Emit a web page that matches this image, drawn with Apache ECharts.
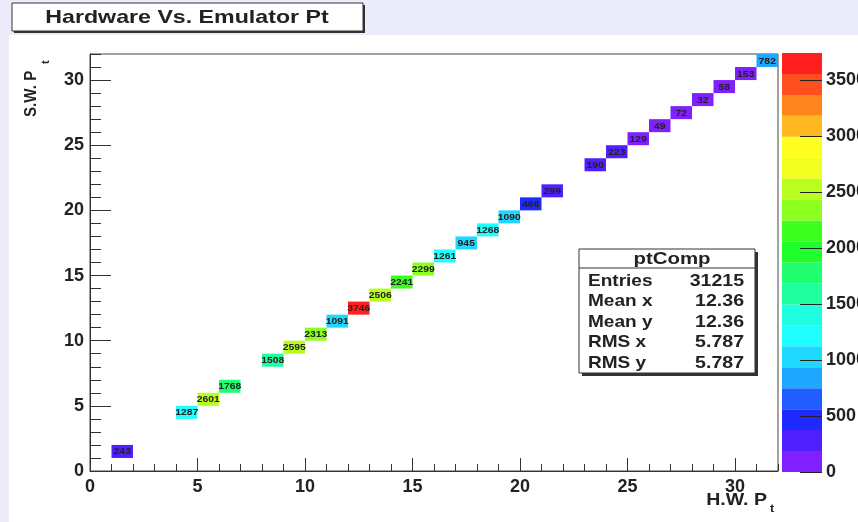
<!DOCTYPE html>
<html>
<head>
    <meta charset="utf-8">
    <title>Hardware Vs. Emulator Pt</title>
    <script src="https://cdn.jsdelivr.net/npm/echarts@6/dist/echarts.min.js"></script>
    <style>
        html, body { margin: 0; padding: 0; background: #ebebfa; }
        #mychart { width: 858px; height: 522px; }
    </style>
</head>
<body>
<div id="mychart"></div>
<script>
    // TH2 "ptComp": filled bins (lower edge of each bin) and their counts
    var hwBins = [1, 4, 5, 6, 8, 9, 10, 11, 12, 13, 14, 15, 16, 17, 18, 19, 20, 21, 23, 24, 25, 26, 27, 28, 29, 30, 31];
    var swBins = [1, 4, 5, 6, 8, 9, 10, 11, 12, 13, 14, 15, 16, 17, 18, 19, 20, 21, 23, 24, 25, 26, 27, 28, 29, 30, 31];
    var counts = [243, 1287, 2601, 1768, 1508, 2595, 2313, 1091, 3746, 2506, 2241, 2299, 1261, 945, 1268, 1090, 466, 299, 190, 223, 129, 49, 72, 32, 58, 153, 782];
    var axisTicks = [0, 5, 10, 15, 20, 25, 30];
    var zTicks = [0, 500, 1000, 1500, 2000, 2500, 3000, 3500];
    var statNames = ['Entries', 'Mean x', 'Mean y', 'RMS x', 'RMS y'];
    var statValues = ['31215', '12.36', '12.36', '5.787', '5.787'];

    var zMax = 3746;
    var levelColors = ['#801fff', '#501fff', '#1f2aff', '#1f5fff', '#1fa6ff', '#1fd8ff', '#1fffff',
        '#1fffe0', '#1fffa0', '#1fff70', '#1fff2c', '#3cff1f', '#8cff1f', '#b8ff1f', '#f0ff1f',
        '#ffff1f', '#ffb81f', '#ff861f', '#ff4f1f', '#ff1f1f'];
    var step = zMax / levelColors.length;

    var cells = [];
    for (let i = 0; i < counts.length; i++) {
        cells.push([hwBins[i], swBins[i], counts[i]]);
    }
    var levels = [];
    for (let k = 0; k < levelColors.length; k++) {
        levels.push([k]);
    }

    var fam = '"Liberation Sans", Arial, sans-serif';
    var bold = 'bold 17px ' + fam;
    var labelStyle = {color: '#222', fontWeight: 'bold', fontSize: 18, fontFamily: 'Liberation Sans'};
    var myChart = echarts.init(document.getElementById('mychart'), null, {renderer: 'canvas'});

    // text helper, the picture is a bit wider than tall so fonts get stretched
    function txt(s, x, y, font, align, sx, rot) {
        return {type: 'text', x: x, y: y, scaleX: sx || 1, rotation: rot || 0,
            style: {text: s, x: 0, y: 0, align: align, verticalAlign: 'middle', font: font, fill: '#222'}};
    }

    var option = {
        animation: false,
        grid: [
            {left: 90, top: 54, width: 688, height: 417, outerBoundsMode: 'none', containLabel: false,
                show: true, borderColor: '#444', borderWidth: 1, backgroundColor: '#fff'},
            {left: 782, top: 53, width: 40, height: 419, outerBoundsMode: 'none', containLabel: false},
            {left: 90, top: 54, width: 688, height: 417, outerBoundsMode: 'none', containLabel: false}
        ],
        xAxis: [
            {
                gridIndex: 0, type: 'value', min: 0, max: 32,
                axisLine: {onZero: false, lineStyle: {color: '#333'}},
                axisTick: {inside: true, length: 13, customValues: axisTicks, lineStyle: {color: '#333'}},
                axisLabel: Object.assign({customValues: axisTicks, margin: 7}, labelStyle),
                splitLine: {show: false}
            },
            {gridIndex: 1, type: 'value', min: 0, max: 1, show: false},
            {
                gridIndex: 2, type: 'value', min: 0, max: 32, interval: 1,
                axisLine: {show: false, onZero: false},
                axisTick: {inside: true, length: 7, lineStyle: {color: '#333'}},
                axisLabel: {show: false}, splitLine: {show: false}
            }
        ],
        yAxis: [
            {
                gridIndex: 0, type: 'value', min: 0, max: 32,
                axisLine: {onZero: false, lineStyle: {color: '#333'}},
                axisTick: {inside: true, length: 21, customValues: axisTicks, lineStyle: {color: '#333'}},
                axisLabel: Object.assign({customValues: axisTicks, margin: 6}, labelStyle),
                splitLine: {show: false}
            },
            {
                gridIndex: 1, type: 'value', min: 0, max: zMax, position: 'right', z: 5,
                axisLine: {show: false, onZero: false},
                axisTick: {inside: true, length: 22, customValues: zTicks, lineStyle: {color: '#222'}},
                axisLabel: Object.assign({customValues: zTicks, margin: 4, formatter: function (v) { return String(v); }}, labelStyle),
                splitLine: {show: false}
            },
            {
                gridIndex: 2, type: 'value', min: 0, max: 32, interval: 1,
                axisLine: {show: false, onZero: false},
                axisTick: {inside: true, length: 11, lineStyle: {color: '#333'}},
                axisLabel: {show: false}, splitLine: {show: false}
            }
        ],
        series: [
            {
                type: 'custom', xAxisIndex: 0, yAxisIndex: 0, data: cells,
                renderItem: function (params, api) {
                    var x = api.value(0), y = api.value(1), v = api.value(2);
                    var p0 = api.coord([x, y + 1]);
                    var p1 = api.coord([x + 1, y]);
                    var k = Math.min(levelColors.length - 1, Math.floor(v / step));
                    return {
                        type: 'group', children: [
                            {type: 'rect', shape: {x: p0[0], y: p0[1], width: p1[0] - p0[0], height: p1[1] - p0[1]}, style: {fill: levelColors[k]}},
                            txt(String(v), (p0[0] + p1[0]) / 2, (p0[1] + p1[1]) / 2 + 0.5, 'bold 9px ' + fam, 'center', 1.15)
                        ]
                    };
                }
            },
            {
                type: 'custom', xAxisIndex: 1, yAxisIndex: 1, data: levels, z: -1,
                renderItem: function (params, api) {
                    var k = api.value(0);
                    var p0 = api.coord([0, (k + 1) * step]);
                    var p1 = api.coord([1, k * step]);
                    return {type: 'rect', shape: {x: p0[0], y: p0[1], width: p1[0] - p0[0], height: p1[1] - p0[1]}, style: {fill: levelColors[k]}};
                }
            }
        ],
        graphic: [
            // white pad
            {type: 'rect', z: -10, shape: {x: 9, y: 35, width: 849, height: 487}, style: {fill: '#fff'}},
            // title box
            {type: 'rect', shape: {x: 14, y: 5, width: 351, height: 28}, style: {fill: '#333'}},
            {type: 'rect', shape: {x: 12, y: 3, width: 351, height: 28}, style: {fill: '#fff', stroke: '#333', lineWidth: 1}},
            txt('Hardware Vs. Emulator Pt', 187, 18, 'bold 19px ' + fam, 'center', 1.22),
            // axis titles
            txt('H.W. P', 767, 500, bold, 'right', 1.15),
            txt('t', 770, 509, 'bold 11px ' + fam, 'left', 1.15),
            txt('S.W. P', 31, 117, bold, 'left', 0.89, Math.PI / 2),
            txt('t', 46, 64, 'bold 11px ' + fam, 'left', 1, Math.PI / 2),
            // stats box
            {type: 'rect', shape: {x: 582, y: 252, width: 176, height: 124}, style: {fill: '#333'}},
            {type: 'rect', shape: {x: 579, y: 249, width: 176, height: 124}, style: {fill: '#fff', stroke: '#333', lineWidth: 1}},
            {type: 'line', shape: {x1: 579, y1: 268, x2: 755, y2: 268}, style: {stroke: '#333', lineWidth: 1}},
            txt('ptComp', 672, 259, bold, 'center', 1.2)
        ]
    };

    for (let i = 0; i < statNames.length; i++) {
        let yy = 281 + i * 20.5;
        option.graphic.push(txt(statNames[i], 588, yy, bold, 'left', 1.12));
        option.graphic.push(txt(statValues[i], 744, yy, bold, 'right', 1.15));
    }

    myChart.setOption(option);
</script>
</body>
</html>
